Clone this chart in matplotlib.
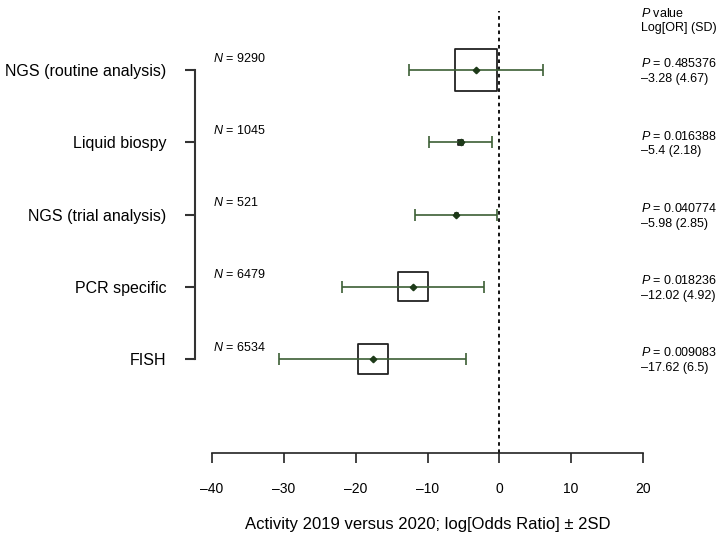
import numpy as np
import matplotlib
matplotlib.use('Agg')
import matplotlib.pyplot as plt
from matplotlib.ticker import FuncFormatter

plt.rcParams['font.family'] = ['Liberation Sans', 'DejaVu Sans']
plt.rcParams['mathtext.fontset'] = 'custom'
plt.rcParams['mathtext.it'] = 'Liberation Sans:italic'
plt.rcParams['mathtext.rm'] = 'Liberation Sans'

# data
methods = ['NGS (routine analysis)', 'Liquid biospy', 'NGS (trial analysis)',
           'PCR specific', 'FISH']
n_cases = [9290, 1045, 521, 6479, 6534]
log_or = [-3.28, -5.4, -5.98, -12.02, -17.62]
sd = [4.67, 2.18, 2.85, 4.92, 6.5]
p_values = ['0.485376', '0.016388', '0.040774', '0.018236', '0.009083']
x_ticks = [-40, -30, -20, -10, 0, 10, 20]

green = '#3c5f35'
dark_green = '#1d3a18'

rows = np.arange(len(methods))
log_or = np.array(log_or)
sd = np.array(sd)
n_cases = np.array(n_cases)

fig = plt.figure(figsize=(7.22, 5.34), dpi=100)
ax = fig.add_axes([212/722, 81/534, 431/722, 453/534])

# boxes sized by number of cases
box_side = 30.2 * n_cases / n_cases.max()
ax.scatter(log_or, rows, marker='s', s=box_side**2, facecolors='none',
           edgecolors='#222222', linewidths=1.3, zorder=2)

ax.errorbar(log_or, rows, xerr=2*sd, fmt='none', ecolor=green,
            elinewidth=1.2, capsize=4.2, capthick=1.2, zorder=3)
ax.plot(log_or, rows, 'D', color=dark_green, markersize=3.3, zorder=4)

ax.set_xlim(-40, 20)
ax.set_ylim(5.301, -0.969)
ax.plot([0, 0], [5.301, -0.82], color='black', ls=(0, (2, 2)), lw=1.3, zorder=1)

# N labels and stats on the right
for r, n, p, m, s in zip(rows, n_cases, p_values, log_or, sd):
    ax.annotate(f'$N$ = {n}', xy=(-40, r), xytext=(1, 8.5),
                textcoords='offset points', ha='left', va='center', fontsize=9)
    ax.annotate(f'$P$ = {p}', xy=(20, r), xytext=(-1.5, 4.5),
                textcoords='offset points', ha='left', va='center', fontsize=9,
                annotation_clip=False)
    ax.annotate(f'–{abs(m):g} ({s:g})', xy=(20, r), xytext=(-1.5, -6.5),
                textcoords='offset points', ha='left', va='center', fontsize=9,
                annotation_clip=False)

ax.annotate('$P$ value', xy=(20, rows[0]), xytext=(-1.5, 41),
            textcoords='offset points', ha='left', va='center', fontsize=9,
            annotation_clip=False)
ax.annotate('Log[OR] (SD)', xy=(20, rows[0]), xytext=(-1.5, 30),
            textcoords='offset points', ha='left', va='center', fontsize=9,
            annotation_clip=False)

# spines: left one acts as the bracket
for side in ['top', 'right']:
    ax.spines[side].set_visible(False)
ax.spines['left'].set_position(('outward', 12.2))
ax.spines['left'].set_bounds(rows[0], rows[-1])
ax.spines['left'].set_linewidth(1.5)
ax.spines['left'].set_color('#333333')
ax.spines['bottom'].set_bounds(-40, 20)
ax.spines['bottom'].set_linewidth(1.2)
ax.spines['bottom'].set_color('#222222')

ax.set_yticks(rows)
ax.set_yticklabels(methods, fontsize=11.5)
ax.tick_params(axis='y', direction='out', length=7.2, width=1.5,
               color='#333333', pad=13.5)

ax.set_xticks(x_ticks)
ax.xaxis.set_major_formatter(FuncFormatter(lambda v, p: f'{v:g}'.replace('-', '–')))
ax.tick_params(axis='x', direction='out', length=7.2, width=1.2,
               color='#222222', pad=13.5, labelsize=10)
ax.set_xlabel('Activity 2019 versus 2020; log[Odds Ratio] ± 2SD',
              fontsize=12, labelpad=15)
ax.patch.set_alpha(0)

fig.savefig('out.png', dpi=100)
